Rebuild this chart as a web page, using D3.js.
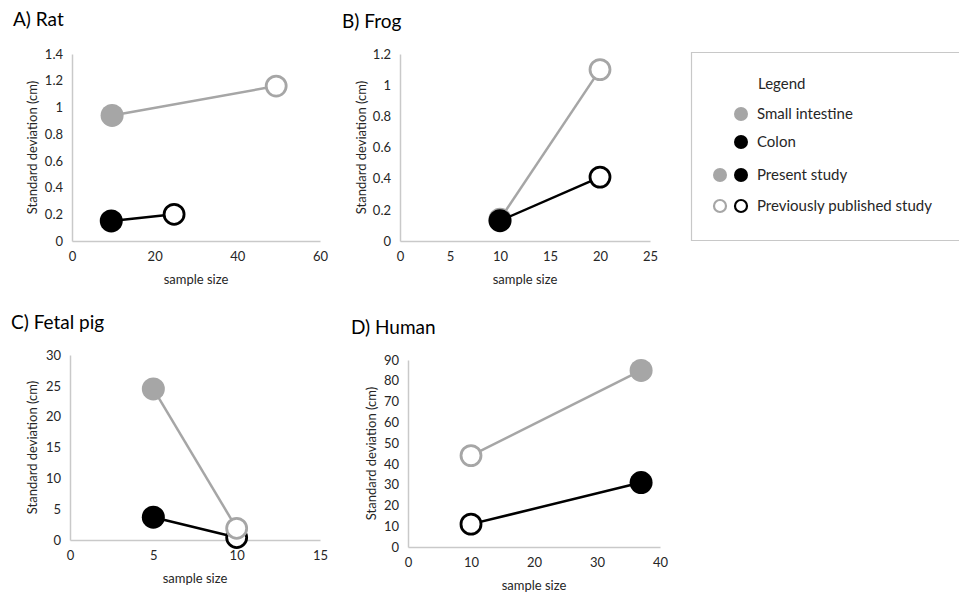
<!DOCTYPE html>
<html><head><meta charset="utf-8">
<script src="https://cdn.jsdelivr.net/npm/d3@7"></script>
<style>
body{margin:0;background:#fff;}
svg{display:block;font-family:Lato,"Open Sans",sans-serif;}
</style></head>
<body><svg id="c" width="959" height="594"></svg>
<script>
// ---- data ----
const panelTitles = ["A) Rat", "B) Frog", "C) Fetal pig", "D) Human"];
const xTicksRat = [0, 20, 40, 60];
const yTicksRat = [0, 0.2, 0.4, 0.6, 0.8, 1, 1.2, 1.4];
const xTicksFrog = [0, 5, 10, 15, 20, 25];
const yTicksFrog = [0, 0.2, 0.4, 0.6, 0.8, 1, 1.2];
const xTicksPig = [0, 5, 10, 15];
const yTicksPig = [0, 5, 10, 15, 20, 25, 30];
const xTicksHuman = [0, 10, 20, 30, 40];
const yTicksHuman = [0, 10, 20, 30, 40, 50, 60, 70, 80, 90];
// each series: [present study point, previously published point] as [sampleSize, sd]
const ratSmallIntestine = [[9.7, 0.94], [49.4, 1.16]];
const ratColon = [[9.5, 0.15], [24.7, 0.20]];
const frogSmallIntestine = [[10, 0.14], [20, 1.10]];
const frogColon = [[10, 0.13], [20, 0.41]];
const pigSmallIntestine = [[5, 24.5], [10, 1.9]];
const pigColon = [[5, 3.7], [10, 0.4]];
const humanSmallIntestine = [[37, 85], [10, 44]];
const humanColon = [[37, 31], [10, 11]];
const legendTitle = "Legend";
const legendLabels = ["Small intestine", "Colon", "Present study", "Previously published study"];
const xLabel = "sample size";
const yLabel = "Standard deviation (cm)";

const GRAY = "#a6a6a6", BLACK = "#000", AXIS = "#c9c9c9", TXT = "#262626";
const svg = d3.select("#c");

const panels = [
  {title: panelTitles[0], xt: xTicksRat, yt: yTicksRat, si: ratSmallIntestine, co: ratColon, grayTop: false,
   xr: [72, 320], yr: [241, 54], tx: 13, ty: 26, ylx: 37},
  {title: panelTitles[1], xt: xTicksFrog, yt: yTicksFrog, si: frogSmallIntestine, co: frogColon, grayTop: false,
   xr: [400, 650], yr: [241, 54], tx: 342, ty: 28, ylx: 366},
  {title: panelTitles[2], xt: xTicksPig, yt: yTicksPig, si: pigSmallIntestine, co: pigColon, grayTop: true,
   xr: [70, 320], yr: [540, 355], tx: 11, ty: 329, ylx: 37},
  {title: panelTitles[3], xt: xTicksHuman, yt: yTicksHuman, si: humanSmallIntestine, co: humanColon, grayTop: false,
   xr: [408, 660], yr: [547, 360], tx: 351, ty: 334, ylx: 376}
];

const fmt = d3.format("~g");
const FS = 13;

panels.forEach(p => {
  const x = d3.scaleLinear().domain(d3.extent(p.xt)).range(p.xr);
  const y = d3.scaleLinear().domain(d3.extent(p.yt)).range(p.yr);
  const g = svg.append("g");
  g.append("text").attr("x", p.tx).attr("y", p.ty).attr("font-size", 19).attr("fill", BLACK).text(p.title);

  const xa = g.append("g").attr("transform", `translate(0,${p.yr[0]})`)
    .call(d3.axisBottom(x).tickValues(p.xt).tickFormat(fmt).tickSize(0).tickPadding(11));
  const ya = g.append("g").attr("transform", `translate(${p.xr[0]},0)`)
    .call(d3.axisLeft(y).tickValues(p.yt).tickFormat(fmt).tickSize(0).tickPadding(9));
  [xa, ya].forEach(a => {
    a.select(".domain").attr("stroke", AXIS).attr("stroke-width", 1.5);
    a.selectAll("text").attr("font-size", FS).attr("fill", TXT).attr("font-family", "Lato");
  });
  g.append("text").attr("x", (p.xr[0] + p.xr[1]) / 2).attr("y", p.yr[0] + 43)
    .attr("text-anchor", "middle").attr("font-size", FS).attr("fill", TXT).text(xLabel);
  g.append("text").attr("transform", `translate(${p.ylx},${(p.yr[0] + p.yr[1]) / 2}) rotate(-90)`)
    .attr("text-anchor", "middle").attr("font-size", FS).attr("fill", TXT).text(yLabel);

  const line = d3.line().x(d => x(d[0])).y(d => y(d[1]));
  const series = p.grayTop ? [[p.co, BLACK], [p.si, GRAY]] : [[p.si, GRAY], [p.co, BLACK]];
  series.forEach(([s, col]) => {
    g.append("path").attr("d", line(s)).attr("fill", "none").attr("stroke", col).attr("stroke-width", 2.5);
    // present study: filled
    g.append("circle").attr("cx", x(s[0][0])).attr("cy", y(s[0][1])).attr("r", 11.5).attr("fill", col);
    // previously published: open
    g.append("circle").attr("cx", x(s[1][0])).attr("cy", y(s[1][1])).attr("r", 10)
      .attr("fill", "#fff").attr("stroke", col).attr("stroke-width", 2.8);
  });
});

// ---- legend ----
const lg = svg.append("g");
lg.append("path").attr("d", "M962,52.5 H691.5 V240.5 H962").attr("fill", "none").attr("stroke", "#c8c8c8").attr("stroke-width", 1.2);
lg.append("text").attr("x", 758).attr("y", 89).attr("font-size", 15).attr("fill", TXT).text(legendTitle);
const rows = [
  {y: 114, text: legendLabels[0], marks: [{x: 741, c: GRAY, open: false}]},
  {y: 142, text: legendLabels[1], marks: [{x: 741, c: BLACK, open: false}]},
  {y: 175, text: legendLabels[2], marks: [{x: 720, c: GRAY, open: false}, {x: 741, c: BLACK, open: false}]},
  {y: 206, text: legendLabels[3], marks: [{x: 720, c: GRAY, open: true}, {x: 741, c: BLACK, open: true}]}
];
rows.forEach(r => {
  r.marks.forEach(m => {
    if (m.open) lg.append("circle").attr("cx", m.x).attr("cy", r.y).attr("r", 6).attr("fill", "#fff").attr("stroke", m.c).attr("stroke-width", 2.2);
    else lg.append("circle").attr("cx", m.x).attr("cy", r.y).attr("r", 7).attr("fill", m.c);
  });
  lg.append("text").attr("x", 757).attr("y", r.y + 5).attr("font-size", 15).attr("fill", TXT).text(r.text);
});
</script></body></html>
